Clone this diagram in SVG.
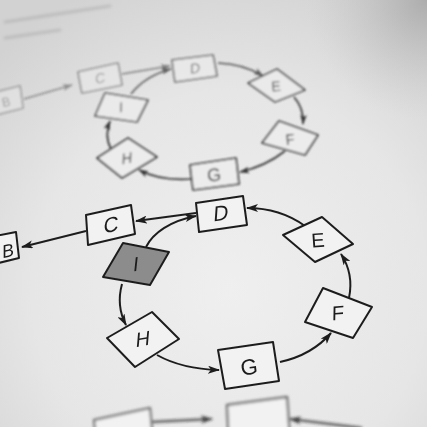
<svg xmlns="http://www.w3.org/2000/svg" width="427" height="427" viewBox="0 0 427 427">
<defs>
<radialGradient id="paper" cx="230" cy="290" r="330" gradientUnits="userSpaceOnUse">
<stop offset="0" stop-color="#efefef"/>
<stop offset="0.6" stop-color="#e6e6e6"/>
<stop offset="1" stop-color="#d2d2d2"/>
</radialGradient>
<radialGradient id="curl" cx="427" cy="0" r="120" gradientUnits="userSpaceOnUse">
<stop offset="0" stop-color="#a8a8a8" stop-opacity="0.9"/>
<stop offset="1" stop-color="#c8c8c8" stop-opacity="0"/>
</radialGradient>
<filter id="blurTop" x="-10%" y="-10%" width="120%" height="120%"><feGaussianBlur stdDeviation="1"/></filter>
<filter id="blurFar" x="-10%" y="-10%" width="120%" height="120%"><feGaussianBlur stdDeviation="1.8"/></filter>
<filter id="blurLow" x="-10%" y="-10%" width="120%" height="120%"><feGaussianBlur stdDeviation="1.6"/></filter>
<filter id="soft"><feGaussianBlur stdDeviation="0.5"/></filter>
<marker id="ah" viewBox="0 0 12 8" refX="11" refY="4" markerWidth="12" markerHeight="8" markerUnits="userSpaceOnUse" orient="auto">
<path d="M0,0 L12,4 L0,8 L3,4 Z" fill="#1e1e1e"/>
</marker>
<marker id="ahT" viewBox="0 0 12 8" refX="11" refY="4" markerWidth="10" markerHeight="7" markerUnits="userSpaceOnUse" orient="auto">
<path d="M0,0 L12,4 L0,8 L3,4 Z" fill="#333"/>
</marker>
</defs>
<style>
.box{fill:#f2f2f2;stroke:#1e1e1e;stroke-width:2;stroke-linejoin:round}
.boxT{fill:#ececec;stroke:#333;stroke-width:1.7;stroke-linejoin:round}
.gray{fill:#8c8c8c}
.edge{fill:none;stroke:#1e1e1e;stroke-width:2}
.edgeT{fill:none;stroke:#333;stroke-width:1.7}
.lbl{font-family:"Liberation Sans",Arial,sans-serif;fill:#1a1a1a;text-anchor:middle;dominant-baseline:central}
.lblT{font-family:"Liberation Sans",Arial,sans-serif;fill:#333;text-anchor:middle;dominant-baseline:central}
</style>
<rect width="427" height="427" fill="url(#paper)"/>
<rect width="427" height="427" fill="url(#curl)"/>
<g id="page-marks" filter="url(#blurFar)" opacity="0.3" stroke="#888" stroke-width="3" stroke-linecap="round">
<path d="M5,22 L110,6"/>
<path d="M5,38 L60,30"/>
</g>

<!-- Top diagram (blurred, farther away) -->
<g id="top-diagram" filter="url(#blurTop)">
<g id="connectors-top">
<path class="edgeT" d="M24,99 L72,85" marker-end="url(#ahT)" opacity="0.45"/>
<path class="edgeT" d="M122,74 L170,66" marker-end="url(#ahT)" opacity="0.55"/>
<path class="edgeT" d="M131,94 Q145,76 171,69" marker-end="url(#ahT)" opacity="0.75"/>
<path class="edgeT" d="M218,63 Q244,64 263,76" marker-end="url(#ahT)" opacity="0.8"/>
<path class="edgeT" d="M294,97 Q304,108 303,124" marker-end="url(#ahT)"/>
<path class="edgeT" d="M285,151 Q266,166 240,172" marker-end="url(#ahT)"/>
<path class="edgeT" d="M191,179 Q160,181 139,170" marker-end="url(#ahT)"/>
<path class="edgeT" d="M111,149 Q104,136 110,121" marker-end="url(#ahT)"/>
</g>
<g id="nodeT-B" opacity="0.4"><polygon class="boxT" points="-15,95 20,86 23,108 -12,117"/><text class="lblT" font-size="13" transform="translate(6 102) rotate(-12)">B</text></g>
<g id="nodeT-C" opacity="0.5"><polygon class="boxT" points="78,72 118,63 122,85 82,93"/><text class="lblT" font-size="14" transform="translate(100 78) rotate(-11) skewX(-10)">C</text></g>
<g id="nodeT-D" opacity="0.7"><polygon class="boxT" points="172,60 213,55 217,76 175,82"/><text class="lblT" font-size="14" transform="translate(195 68) rotate(-7) skewX(-8)">D</text></g>
<g id="nodeT-E" opacity="0.85"><polygon class="boxT" points="277,69 305,90 275,102 248,83"/><text class="lblT" font-size="14" transform="translate(276 86) rotate(-5)">E</text></g>
<g id="nodeT-F"><polygon class="boxT" points="279,121 318,135 305,155 262,143"/><text class="lblT" font-size="15" transform="translate(290 139) rotate(-5)">F</text></g>
<g id="nodeT-G"><polygon class="boxT" points="190,165 236,158 239,184 193,190" style="stroke:#222"/><text class="lblT" font-size="18" style="fill:#222" transform="translate(214 175) rotate(-6)">G</text></g>
<g id="nodeT-H"><polygon class="boxT" points="128,138 157,157 122,178 97,158"/><text class="lblT" font-size="15" transform="translate(127 158) rotate(-10) skewX(-12)">H</text></g>
<g id="nodeT-I" opacity="0.85"><polygon class="boxT" points="105,93 148,100 137,122 95,116"/><text class="lblT" font-size="14" transform="translate(121 107) rotate(-10) skewX(-12)">I</text></g>
</g>

<!-- Main diagram -->
<g id="connectors" filter="url(#soft)">
<path class="edge" d="M196,213 L136,221" marker-end="url(#ah)"/>
<path class="edge" d="M86,231 L22,247" marker-end="url(#ah)"/>
<path class="edge" d="M146,247 C153,233 170,221 196,216" marker-end="url(#ah)"/>
<path class="edge" d="M122,284 Q116,306 126,325" marker-end="url(#ah)"/>
<path class="edge" d="M157,355 Q182,369 219,370" marker-end="url(#ah)"/>
<path class="edge" d="M280,362 Q312,355 331,333" marker-end="url(#ah)"/>
<path class="edge" d="M349,298 Q354,274 341,254" marker-end="url(#ah)"/>
<path class="edge" d="M305,226 Q280,208 247,208" marker-end="url(#ah)"/>
</g>
<g id="node-B" filter="url(#soft)"><polygon class="box" points="-25,240 16,232 19,258 -22,268"/><text class="lbl" font-size="18" transform="translate(8 251) rotate(-12) skewX(-12)">B</text></g>
<g id="node-C" filter="url(#soft)"><polygon class="box" points="86,215 131,205 135,234 88,245"/><text class="lbl" font-size="21" transform="translate(111 225) rotate(-11) skewX(-14)">C</text></g>
<g id="node-D" filter="url(#soft)"><polygon class="box" points="196,203 243,196 247,225 199,232"/><text class="lbl" font-size="21" transform="translate(221 213) rotate(-8) skewX(-12)">D</text></g>
<g id="node-E" filter="url(#soft)"><polygon class="box" points="322,217 353,244 315,262 283,235"/><text class="lbl" font-size="20" transform="translate(318 240) rotate(-4)">E</text></g>
<g id="node-F" filter="url(#soft)"><polygon class="box" points="323,288 372,307 353,338 305,322"/><text class="lbl" font-size="20" transform="translate(338 313) rotate(-5) skewX(-6)">F</text></g>
<g id="node-G" filter="url(#soft)"><polygon class="box" points="218,350 273,342 279,381 225,389"/><text class="lbl" font-size="22" transform="translate(249 367) rotate(-7)">G</text></g>
<g id="node-H" filter="url(#soft)"><polygon class="box" points="152,312 179,339 135,367 107,338"/><text class="lbl" font-size="20" transform="translate(143 339) rotate(-10) skewX(-15)">H</text></g>
<g id="node-I" filter="url(#soft)"><polygon class="box gray" points="123,243 169,252 150,285 103,277"/><text class="lbl" font-size="20" transform="translate(136 264) rotate(-8) skewX(-14)">I</text></g>

<!-- Next diagram, partly cut off at the bottom -->
<g id="bottom-partial" filter="url(#blurLow)">
<path class="edge" d="M150,422 L212,419" marker-end="url(#ah)" opacity="0.85"/>
<path class="edge" d="M362,428 L290,419" marker-end="url(#ah)" opacity="0.85"/>
<polygon class="box" points="94,420 150,408 153,440 97,450" style="stroke:#555"/>
<polygon class="box" points="227,405 287,397 290,440 229,445" style="stroke:#444"/>
</g>
</svg>
